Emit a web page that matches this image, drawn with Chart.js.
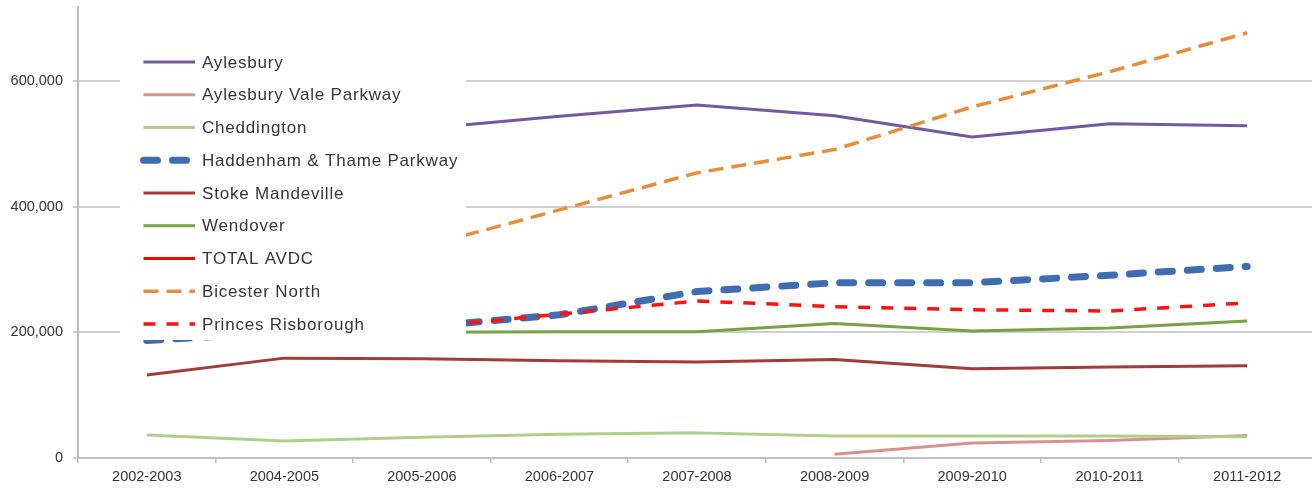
<!DOCTYPE html>
<html>
<head>
<meta charset="utf-8">
<script src="https://cdn.jsdelivr.net/npm/chart.js@4.4.1/dist/chart.umd.min.js"></script>
<style>
    html, body { margin: 0; padding: 0; background: #fff; overflow: hidden; }
    #wrap { width: 1316px; height: 492px; }
</style>
</head>
<body>
<div id="wrap"><canvas id="grafico" width="1316" height="492"></canvas></div>
<script>
var categorias = ['2002-2003', '2004-2005', '2005-2006', '2006-2007', '2007-2008', '2008-2009', '2009-2010', '2010-2011', '2011-2012'];

var aylesbury = [480000, 505000, 524000, 544000, 562000, 545000, 511000, 532000, 529000];
var aylesburyVale = [null, null, null, null, null, 6000, 24000, 28000, 36000];
var cheddington = [36500, 27000, 33000, 38000, 40000, 35000, 35000, 35000, 34000];
var haddenham = [187000, 200000, 209000, 228000, 265000, 279000, 279000, 291000, 305000];
var stokeMandeville = [132000, 159000, 158000, 155000, 153000, 157000, 142000, 145000, 147000];
var wendover = [195000, 200000, 200000, 201000, 201000, 214000, 202000, 207000, 218000];
var totalAvdc = [1031000, 1096000, 1125000, 1165000, 1221000, 1238000, 1193000, 1239000, 1267000];
var bicesterNorth = [270000, 300000, 336000, 395000, 454000, 491000, 559000, 615000, 677000];
var princesRisborough = [195000, 200000, 208000, 229000, 250000, 241000, 236000, 234000, 247000];

var ticksY = [0, 200000, 400000, 600000];

var series = [
    { label: 'Aylesbury', data: aylesbury, color: '#7458a0', width: 3, dash: [] },
    { label: 'Aylesbury Vale Parkway', data: aylesburyVale, color: '#d99190', width: 3, dash: [] },
    { label: 'Cheddington', data: cheddington, color: '#afcf86', width: 3, dash: [] },
    { label: 'Haddenham & Thame Parkway', data: haddenham, color: '#3f6db0', width: 7, dash: [14, 15], cap: 'round' },
    { label: 'Stoke Mandeville', data: stokeMandeville, color: '#a23b3a', width: 3, dash: [] },
    { label: 'Wendover', data: wendover, color: '#77a142', width: 3, dash: [] },
    { label: 'TOTAL AVDC', data: totalAvdc, color: '#ff0000', width: 3, dash: [] },
    { label: 'Bicester North', data: bicesterNorth, color: '#e98d3b', width: 3.5, dash: [15, 8] },
    { label: 'Princes Risborough', data: princesRisborough, color: '#ff1010', width: 3.5, dash: [12, 11] }
];

var datasets = series.map(function (s, i) {
    return {
        label: s.label,
        data: s.data,
        borderColor: s.color,
        backgroundColor: s.color,
        borderWidth: s.width,
        borderDash: s.dash,
        borderCapStyle: s.cap || 'butt',
        borderJoinStyle: 'round',
        pointRadius: 0,
        pointHoverRadius: 0,
        tension: 0,
        spanGaps: false,
        order: series.length - i
    };
});

// la leyenda de Excel va encima del area del grafico, en un recuadro blanco
var leyendaPlugin = {
    id: 'leyendaSuperpuesta',
    afterDatasetsDraw: function (chart) {
        var ctx = chart.ctx;
        var area = chart.chartArea;
        var x0 = area.left + 42;
        var y0 = area.top + 31;
        ctx.save();
        ctx.fillStyle = '#ffffff';
        ctx.fillRect(x0, y0, 346, 302);

        chart.data.datasets.forEach(function (ds, i) {
            var y = y0 + 24 + i * 32.75;
            ctx.beginPath();
            ctx.strokeStyle = ds.borderColor;
            ctx.lineWidth = ds.borderWidth;
            ctx.lineCap = ds.borderCapStyle;
            ctx.setLineDash(ds.borderDash);
            ctx.moveTo(x0 + 23.5, y);
            ctx.lineTo(x0 + 75, y);
            ctx.stroke();

            ctx.setLineDash([]);
            ctx.fillStyle = '#363636';
            ctx.font = '17px "Liberation Sans", Arial, sans-serif';
            ctx.letterSpacing = '0.8px';
            ctx.textBaseline = 'middle';
            ctx.textAlign = 'left';
            ctx.fillText(ds.label, x0 + 82, y + 1);
        });
        ctx.restore();
    }
};

var ctx = document.getElementById('grafico').getContext('2d');
window.chart = new Chart(ctx, {
    type: 'line',
    data: {
        labels: categorias,
        datasets: datasets
    },
    options: {
        responsive: false,
        animation: false,
        devicePixelRatio: 1,
        layout: { padding: { top: 7, right: 0, bottom: 0, left: 0 } },
        plugins: {
            legend: { display: false },
            tooltip: { enabled: false }
        },
        scales: {
            x: {
                offset: true,
                grid: {
                    display: true,
                    offset: true,
                    drawOnChartArea: false,
                    drawTicks: true,
                    tickLength: 5,
                    color: '#bfbfbf',
                    lineWidth: 1.5
                },
                border: { color: '#bfbfbf', width: 2 },
                ticks: {
                    color: '#363636',
                    font: { family: '"Liberation Sans", Arial, sans-serif', size: 14.5 },
                    padding: 5,
                    maxRotation: 0,
                    autoSkip: false
                },
                afterFit: function (scale) { scale.height = 34; }
            },
            y: {
                min: 0,
                max: 718000,
                grid: {
                    color: '#d0d0d0',
                    lineWidth: 2,
                    drawTicks: true,
                    tickLength: 5
                },
                border: { color: '#bfbfbf', width: 2 },
                ticks: {
                    color: '#363636',
                    font: { family: '"Liberation Sans", Arial, sans-serif', size: 14.5 },
                    padding: 10,
                    callback: function (v) { return v.toLocaleString('en-US'); }
                },
                afterBuildTicks: function (scale) {
                    scale.ticks = ticksY.map(function (v) { return { value: v }; });
                },
                afterFit: function (scale) {
                    scale.width = 78;
                    scale.paddingTop = 0;
                    scale.paddingBottom = 0;
                }
            }
        }
    },
    plugins: [leyendaPlugin]
});
</script>
</body>
</html>
